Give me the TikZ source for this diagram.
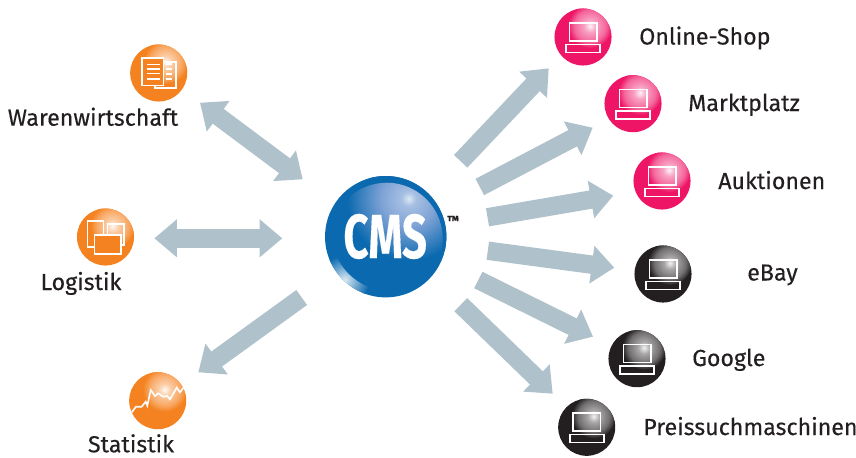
\documentclass[tikz,border=0pt]{standalone}
\usepackage{fontspec}
\setmainfont{Fira Sans}[RawFeature={embolden=0.3}]
\usetikzlibrary{arrows.meta}
\definecolor{arrowgrey}{HTML}{AFC1CB}
\definecolor{ballorange}{HTML}{F58220}
\definecolor{ballpink}{HTML}{EE1566}
\definecolor{ballblack}{HTML}{231F20}
\definecolor{ballblue}{HTML}{0A69AF}
\definecolor{glowblue}{HTML}{7FA3D6}
\definecolor{labelink}{HTML}{231F20}
\pgfdeclareradialshading{glowballorange}{\pgfpoint{0bp}{0bp}}{color(0bp)=(white!95!ballorange); color(7bp)=(ballorange!40!white); color(18bp)=(ballorange!70!white); color(25bp)=(ballorange); color(50bp)=(ballorange)}
\pgfdeclareradialshading{glowballpink}{\pgfpoint{0bp}{0bp}}{color(0bp)=(white!95!ballpink); color(7bp)=(ballpink!40!white); color(18bp)=(ballpink!65!white); color(25bp)=(ballpink); color(50bp)=(ballpink)}
\pgfdeclareradialshading{glowballblack}{\pgfpoint{0bp}{0bp}}{color(0bp)=(white!95!ballblack); color(7bp)=(ballblack!40!white); color(18bp)=(ballblack!65!white); color(25bp)=(ballblack); color(50bp)=(ballblack)}
\pgfdeclareradialshading{glowcms}{\pgfpoint{0bp}{0bp}}{color(0bp)=(white!85!ballblue); color(3bp)=(glowblue!70!white); color(11bp)=(glowblue); color(25bp)=(ballblue); color(50bp)=(ballblue)}
\tikzset{
  x=0.75pt, y=-0.75pt,
  ball/.style={circle, inner sep=0pt, minimum size=42.8pt, fill=#1},
  cmsball/.style={circle, inner sep=0pt, minimum size=91pt, fill=ballblue},
  label/.style={text=labelink, font=\fontsize{17.4}{19}\selectfont, anchor=base, inner sep=0pt},
  rightlabel/.style={label, anchor=base west},
  icon/.style={draw=white, line width=1.2pt},
  link/.style={draw=arrowgrey, line width=13.8pt},
  linkout/.style={link, -{Triangle[width=27.5pt,length=17pt]}},
  linkboth/.style={link, {Triangle[width=27.5pt,length=17pt]}-{Triangle[width=27.5pt,length=17pt]}},
  pics/glow/.style={code={
    \clip (0,0) circle (28.5);
    \shade [shading=glow#1] (7,-11) circle (22);
  }},
  pics/cmsglow/.style={code={
    \clip (0,0) circle (60.7);
    \shade [inner color=white!85!ballblue, outer color=ballblue] (-41,43) circle (25);
    \fill [ballblue] (4,-4) circle (58);
    \clip (1,2) circle (56);
    \shade [shading=glowcms] (23,-38) circle (62);
  }},
  pcicon/.pic={
    \draw [icon] (-13.7,-14.3) rectangle (13.7,3.7);
    \draw [icon] (-17,7.3) rectangle (17,15.3);
  }
}
\begin{document}
\begin{tikzpicture}
  \useasboundingbox (0,0) rectangle (856,457);

  % hub
  \node [cmsball] (cms) at (385.7,236.7) {};
  \pic at (cms) {cmsglow};
  \node [text=white, font=\fontsize{46.7}{47}\selectfont\bfseries, xscale=0.70] (cmstext) at (385.2,236.5) {CMS};
  \node [text=labelink, font=\fontsize{10}{10}\selectfont\bfseries] (tm) at (453,220.5) {™};

  % left side
  \node [ball=ballorange] (waren) at (158.7,73) {};
  \pic at (waren) {glow=ballorange};
  \draw [icon] (155,62) rectangle (175.7,88);
  \draw [icon, line width=0.9pt] (165.5,69) -- (171.5,69) (165.5,74) -- (171.5,74) (165.5,64) -- (171.5,64) (165.5,79) -- (171.5,79);
  \draw [icon, fill=ballorange] (142,58) rectangle (163.4,85.3);
  \draw [icon, line width=0.9pt] (146.5,64.3) -- (159.5,64.3) (146.5,69) -- (159.5,69) (146.5,73.5) -- (159.5,73.5) (146.5,79) -- (159.5,79);
  \node [label] (warenlabel) at (93,125.7) {Warenwirtschaft};

  \node [ball=ballorange] (logistik) at (105.5,237) {};
  \pic at (logistik) {glow=ballorange};
  \draw [icon] (87.5,221) rectangle (103.5,247);
  \draw [icon] (107.5,224) rectangle (123.8,244.7);
  \draw [icon, fill=ballorange] (94.5,234.7) rectangle (120.8,253.7);
  \node [label] (logistiklabel) at (81,290) {Logistik};

  \node [ball=ballorange] (statistik) at (157.7,400.7) {};
  \pic at (statistik) {glow=ballorange};
  \draw [icon] (131.7,412.3) -- (136,406.7) -- (141.7,406.7) -- (145.7,401.7) -- (147.3,405.7)
    -- (150.7,390) -- (155,396) -- (158.3,393.3) -- (163.3,396.7) -- (167.3,396) -- (170,399.3)
    -- (176.7,387.7) -- (180,392.3) -- (184.3,386.7);
  \node [label] (statistiklabel) at (131,452.3) {Statistik};

  % right side
  \node [ball=ballpink] (online) at (583,37) {};
  \pic at (online) {glow=ballpink};
  \pic at (online) {pcicon};
  \node [rightlabel] (onlinelabel) at (639,44.5) {Online-Shop};

  \node [ball=ballpink] (markt) at (633,103.7) {};
  \pic at (markt) {glow=ballpink};
  \pic at (markt) {pcicon};
  \node [rightlabel] (marktlabel) at (688,111) {Marktplatz};

  \node [ball=ballpink] (auktion) at (662,181) {};
  \pic at (auktion) {glow=ballpink};
  \pic at (auktion) {pcicon};
  \node [rightlabel] (auktionlabel) at (718,189) {Auktionen};

  \node [ball=ballblack] (ebay) at (663,274) {};
  \pic at (ebay) {glow=ballblack};
  \pic at (ebay) {pcicon};
  \node [rightlabel] (ebaylabel) at (747,280.5) {eBay};

  \node [ball=ballblack] (google) at (637,358.7) {};
  \pic at (google) {glow=ballblack};
  \pic at (google) {pcicon};
  \node [rightlabel] (googlelabel) at (692,366) {Google};

  \node [ball=ballblack] (preis) at (586.7,427.3) {};
  \pic at (preis) {glow=ballblack};
  \pic at (preis) {pcicon};
  \node [rightlabel] (preislabel) at (643,435) {Preissuchmaschinen};

  % arrow ends
  \coordinate (warenA) at (200,102.7);
  \coordinate (warenB) at (302.7,179.3);
  \coordinate (logistikA) at (154.3,238.3);
  \coordinate (logistikB) at (282.3,238.3);
  \coordinate (statistikA) at (301.7,297.5);
  \coordinate (statistikB) at (198.3,372.3);
  \coordinate (onlineA) at (460.7,161.3);
  \coordinate (onlineB) at (548.7,68.3);
  \coordinate (marktA) at (479.8,187);
  \coordinate (marktB) at (592.7,127.7);
  \coordinate (auktionA) at (487.5,217.3);
  \coordinate (auktionB) at (613.3,195.7);
  \coordinate (ebayA) at (487.8,250.7);
  \coordinate (ebayB) at (614.3,267.7);
  \coordinate (googleA) at (478.3,280);
  \coordinate (googleB) at (593,336.7);
  \coordinate (preisA) at (460.8,304.7);
  \coordinate (preisB) at (552.7,393.7);

  \draw [linkboth] (warenA) -- (warenB);
  \draw [linkboth] (logistikA) -- (logistikB);
  \draw [linkout] (statistikA) -- (statistikB);
  \draw [linkout] (onlineA) -- (onlineB);
  \draw [linkout] (marktA) -- (marktB);
  \draw [linkout] (auktionA) -- (auktionB);
  \draw [linkout] (ebayA) -- (ebayB);
  \draw [linkout] (googleA) -- (googleB);
  \draw [linkout] (preisA) -- (preisB);
\end{tikzpicture}
\end{document}
